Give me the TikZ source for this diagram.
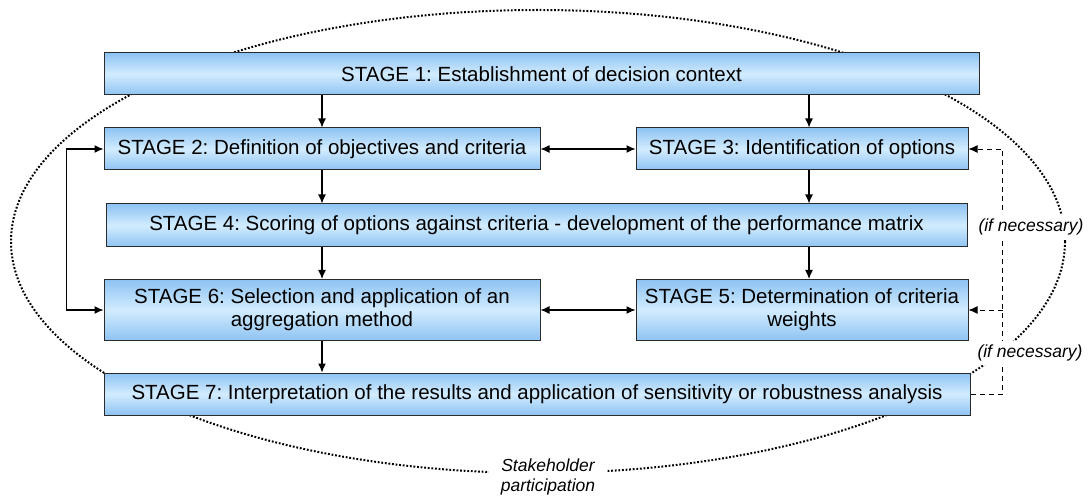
\documentclass[tikz,border=0pt]{standalone}
\usepackage{fontspec}
\setmainfont{Liberation Sans}
\frenchspacing
\definecolor{StageBlue}{HTML}{8EC3F2}
\definecolor{StageLight}{HTML}{D2ECFF}
\definecolor{StageEdge}{HTML}{2B2B2B}
\usetikzlibrary{arrows.meta, positioning, calc}

\begin{document}
\begin{tikzpicture}[x=1pt, y=-1pt,
    stagebox/.style={draw=StageEdge, line width=1pt, top color=StageBlue, bottom color=StageBlue,
      middle color=StageLight, inner sep=0pt, align=center, font=\fontsize{20.5}{23}\selectfont},
    flow/.style={line width=1.2pt, -{Latex[length=9pt, width=8pt]}},
    twoway/.style={line width=1.2pt, {Latex[length=9pt, width=8pt]}-{Latex[length=9pt, width=8pt]}},
    loopback/.style={line width=0.9pt, dashed, dash pattern=on 5pt off 4pt, -{Latex[length=9pt, width=8pt]}},
    note/.style={fill=white, inner sep=1pt, align=center, font=\fontsize{17.5}{20}\selectfont\itshape}]
  \useasboundingbox (0,0) rectangle (1089,502);
  % stakeholder participation ring
  \draw[line width=2pt, dash pattern=on 1.8pt off 1.8pt] (538,241.5) ellipse [x radius=527, y radius=231.5];
  % stages
  \node[stagebox, minimum width=875, minimum height=42] (s1) at (541.5,74) {STAGE 1: Establishment of decision context};
  \node[stagebox, minimum width=436, minimum height=42] (s2) at (322,149) {STAGE 2: Definition of objectives and criteria};
  \node[stagebox, minimum width=332, minimum height=42] (s3) at (802,149) {STAGE 3: Identification of options};
  \node[stagebox, minimum width=861, minimum height=43] (s4) at (536.5,225.5) {STAGE 4: Scoring of options against criteria - development of the performance matrix};
  \node[stagebox, minimum width=436, minimum height=61] (s6) at (322,310) {STAGE 6: Selection and application of an\\aggregation method};
  \node[stagebox, minimum width=332, minimum height=61] (s5) at (802,310) {STAGE 5: Determination of criteria\\weights};
  \node[stagebox, minimum width=866, minimum height=42] (s7) at (537,394) {STAGE 7: Interpretation of the results and application of sensitivity or robustness analysis};
  % main flow
  \draw[flow] (s1.south -| s2.north) -- (s2.north);
  \draw[flow] ([xshift=7]s1.south -| s3.north) -- ([xshift=7]s3.north);
  \draw[flow] (s2.south) -- (s2.south |- s4.north);
  \draw[flow] ([xshift=7]s3.south) -- ([xshift=7]s3.south |- s4.north);
  \draw[flow] (s4.south -| s6.north) -- (s6.north);
  \draw[flow] ([xshift=7]s4.south -| s5.north) -- ([xshift=7]s5.north);
  \draw[flow] (s6.south) -- (s6.south |- s7.north);
  \draw[twoway] (s2.east) -- (s3.west);
  \draw[twoway] (s6.east) -- (s5.west);
  \draw[twoway] (s2.west) -- ++(-37,0) |- (s6.west);
  % feedback from stage 7
  \coordinate (fb) at ([xshift=32]s7.east);
  \draw[loopback] (s7.east) -- (fb) |- (s3.east);
  \draw[loopback] (fb |- s5.east) -- (s5.east);
  \node[note, inner ysep=5pt] (n1) at (1031,227) {(if necessary)};
  \node[note, inner ysep=4pt] (n2) at (1030,353) {(if necessary)};
  \node[note, inner xsep=12pt] (sp) at (548,477) {Stakeholder\\participation};
\end{tikzpicture}
\end{document}
